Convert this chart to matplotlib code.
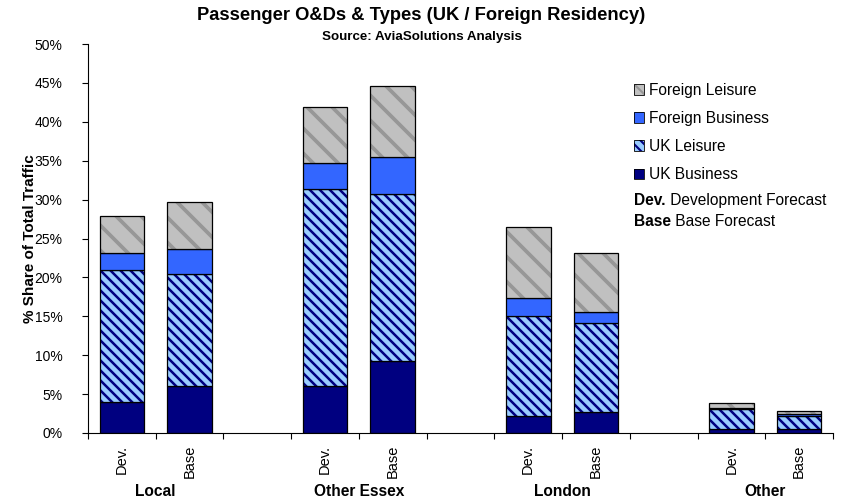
import numpy as np
import matplotlib.pyplot as plt
from matplotlib.patches import Patch
from matplotlib.ticker import PercentFormatter, FixedLocator

plt.rcParams['font.family'] = ['Liberation Sans', 'DejaVu Sans']

# regions and forecast cases
regions = ['Local', 'Other Essex', 'London', 'Other']
cases = ['Dev.', 'Base']

# share of total traffic (%), order: Local Dev, Local Base, Other Essex Dev, ...
uk_business = [3.95, 6.1, 6.0, 9.2, 2.2, 2.7, 0.55, 0.45]
uk_leisure = [17.0, 14.4, 25.4, 21.5, 12.9, 11.5, 2.5, 1.75]
foreign_business = [2.15, 3.15, 3.3, 4.8, 2.3, 1.4, 0.2, 0.3]
foreign_leisure = [4.8, 6.05, 7.2, 9.1, 9.1, 7.6, 0.65, 0.35]

# rendered at 150 dpi so the hatch tiles come out at the right density;
# sizes below are given as points at 100 dpi and scaled by P
W, H = 843, 499
DPI = 150
P = 100 / DPI
BS = chr(92)  # backslash hatch

fig = plt.figure(figsize=(W / DPI, H / DPI), dpi=DPI)
ax = fig.add_axes([88 / W, 1 - 433 / H, (833 - 88) / W, (433 - 44) / H])

# each region takes three slots: two bars and a gap
xpos = np.array([g * 3 + c + 0.5 for g in range(len(regions)) for c in range(len(cases))])
bw = 0.66

series = [
    ('UK Business', uk_business, '#000080', None, '#000080', 1.0),
    ('UK Leisure', uk_leisure, '#99ccff', BS * 5, '#000080', 1.2),
    ('Foreign Business', foreign_business, '#3366ff', None, '#3366ff', 1.0),
    ('Foreign Leisure', foreign_leisure, '#c0c0c0', BS * 2, '#979797', 1.8),
]

bottom = np.zeros(len(xpos))
handles = []
for name, vals, fc, hatch, hc, hlw in series:
    vals = np.array(vals) / 100
    plt.rcParams['hatch.linewidth'] = hlw
    ax.bar(xpos, vals, bw, bottom=bottom, color=fc, hatch=hatch,
           edgecolor=hc, linewidth=0)
    handles.append(Patch(facecolor=fc, hatch=hatch, edgecolor=hc,
                         linewidth=0, label=name))
    plt.rcParams['hatch.linewidth'] = 1.0
    ax.bar(xpos, vals, bw, bottom=bottom, fill=False,
           edgecolor='black', linewidth=0.9 * P)
    bottom = bottom + vals

ax.set_xlim(0, 11)
ax.set_ylim(0, 0.5)
ax.yaxis.set_major_locator(FixedLocator(np.arange(0, 0.51, 0.05)))
ax.yaxis.set_major_formatter(PercentFormatter(1.0, decimals=0))
ax.tick_params(axis='y', labelsize=10 * P, length=4.5 * P, width=0.8 * P,
               pad=14 * P, direction='out')

# ticks on slot boundaries, case labels under bars
ax.xaxis.set_major_locator(FixedLocator(np.arange(0, 12)))
ax.tick_params(axis='x', which='major', length=4.5 * P, width=0.8 * P,
               labelbottom=False, direction='out')
for x, lab in zip(xpos, cases * len(regions)):
    ax.annotate(lab, xy=(x, 0), xycoords=('data', 'axes fraction'),
                xytext=(0, -12), textcoords='offset pixels',
                rotation=90, ha='center', va='top', fontsize=10.5 * P)
for g, reg in enumerate(regions):
    ax.annotate(reg, xy=(g * 3 + 1, 0), xycoords=('data', 'axes fraction'),
                xytext=(0, -58.5), textcoords='offset pixels',
                ha='center', va='center', fontsize=11.2 * P, fontweight='bold')

for s in ['top', 'right']:
    ax.spines[s].set_visible(False)
for s in ['left', 'bottom']:
    ax.spines[s].set_linewidth(0.8 * P)

ax.set_ylabel('% Share of Total Traffic', fontsize=11 * P, fontweight='bold')
ax.yaxis.set_label_coords(-(88 - 30) / (833 - 88), 0.5)
ax.yaxis.label.set_va('center')

fig.text(0.5, 1 - 15.5 / H, 'Passenger O&Ds & Types (UK / Foreign Residency)',
         ha='center', va='center', fontsize=13.2 * P, fontweight='bold')
fig.text(0.5, 1 - 37 / H, 'Source: AviaSolutions Analysis',
         ha='center', va='center', fontsize=9.6 * P, fontweight='bold')

# legend boxes get their black outline from a second, unfilled patch
outlines = [Patch(facecolor='none', edgecolor='black', linewidth=0.6 * P) for _ in handles]
leg = fig.legend(handles=list(zip(handles, outlines))[::-1],
                 labels=[h.get_label() for h in handles][::-1], loc='upper left',
                 bbox_to_anchor=(634 / W, 1 - 83 / H), bbox_transform=fig.transFigure,
                 frameon=False, fontsize=11.2 * P, handlelength=0.65, handleheight=0.65,
                 handletextpad=0.33, labelspacing=0.84, borderpad=0, borderaxespad=0)

for label, desc, y in [('Dev.', ' Development Forecast', 200.7), ('Base', ' Base Forecast', 221.7)]:
    t = fig.text(634 / W, 1 - y / H, label, ha='left', va='center',
                 fontsize=11.2 * P, fontweight='bold')
    fig.canvas.draw()
    ax.annotate(desc, xy=(1, 0.5), xycoords=t, ha='left', va='center', fontsize=11.2 * P)

fig.savefig('out.png', dpi=DPI)
